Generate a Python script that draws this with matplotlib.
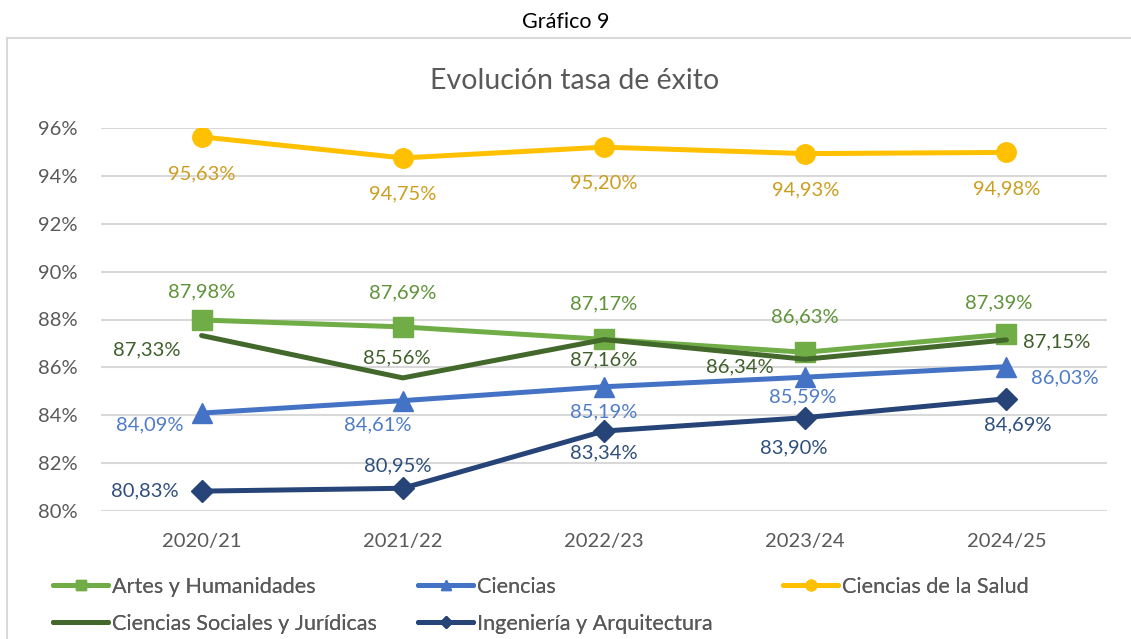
import matplotlib.pyplot as plt
from matplotlib.patches import Rectangle

plt.rcParams['font.family'] = ['Lato', 'DejaVu Sans']

years = ["2020/21", "2021/22", "2022/23", "2023/24", "2024/25"]
artes = [87.98, 87.69, 87.17, 86.63, 87.39]
ciencias = [84.09, 84.61, 85.19, 85.59, 86.03]
salud = [95.63, 94.75, 95.20, 94.93, 94.98]
sociales = [87.33, 85.56, 87.16, 86.34, 87.15]
ingenieria = [80.83, 80.95, 83.34, 83.90, 84.69]
yticks = [80, 82, 84, 86, 88, 90, 92, 94, 96]

# (name, values, line colour, label colour, marker, marker size, label offsets in px)
series = [
    ("Artes y Humanidades", artes, "#70AD47", "#5F9338", "s", 14,
     [(0, 28), (0, 34), (0, 35), (0, 35), (-8, 31)]),
    ("Ciencias Sociales y Jurídicas", sociales, "#43682B", "#3F5F2A", None, 0,
     [(-55, -14), (-6, 20), (0, -20), (-65, -8), (50, -2)]),
    ("Ciencias", ciencias, "#4472C4", "#4F7CC8", "^", 14,
     [(-52, -12), (-25, -24), (0, -25), (-2, -20), (58, -11)]),
    ("Ingeniería y Arquitectura", ingenieria, "#264478", "#2E4F7C", "D", 11,
     [(-57, 0), (-5, 22), (0, -22), (-11, -30), (11, -26)]),
    ("Ciencias de la Salud", salud, "#FFC000", "#CC9E1F", "o", 14,
     [(0, -37), (0, -36), (0, -36), (0, -36), (0, -36)]),
]

fig = plt.figure(figsize=(11.31, 6.39), dpi=100)

# outer chart border (cut off on right and bottom like the source)
fig.patches.append(Rectangle((7 / 1131, -0.05), 1.2, 0.05 + 1 - 38 / 639,
                             transform=fig.transFigure, fill=False,
                             edgecolor="#D9D9D9", lw=1.5))

fig.text(0.5, 1 - 22 / 639, "Gráfico 9", ha="center", va="center",
         fontsize=15.5, color="black")

ax = fig.add_axes([101 / 1131, 128 / 639, 1006 / 1131, 383 / 639])
x = list(range(len(years)))

handles = {}
for name, vals, col, lcol, mk, ms, offs in series:
    (h,) = ax.plot(x, vals, color=col, lw=3.6, marker=mk, markersize=ms,
                   solid_capstyle="round", label=name, zorder=3)
    handles[name] = h
    for xi, v, (dx, dy) in zip(x, vals, offs):
        ax.annotate(f"{v:.2f}%".replace(".", ","), (xi, v),
                    xytext=(dx, dy), textcoords="offset pixels",
                    ha="center", va="center", fontsize=14.5, color=lcol,
                    zorder=4)

ax.set_xlim(-0.5, len(years) - 0.5)
ax.set_ylim(80, 96)
ax.set_yticks(yticks)
ax.set_yticklabels([f"{t}%" for t in yticks])
ax.set_xticks(x)
ax.set_xticklabels(years)
ax.grid(axis="y", color="#D9D9D9", lw=1.5)
ax.set_axisbelow(True)
for s in ax.spines.values():
    s.set_visible(False)
ax.tick_params(length=0, labelsize=14.5, labelcolor="#595959")
ax.tick_params(axis="y", pad=17)
ax.tick_params(axis="x", pad=16)

fig.text(575 / 1131, 1 - 81 / 639, "Evolución tasa de éxito", ha="center",
         va="center", fontsize=20.5, color="#595959")

# legend: three columns placed like the Excel legend
columns = [
    (53, ["Artes y Humanidades", "Ciencias Sociales y Jurídicas"]),
    (418, ["Ciencias", "Ingeniería y Arquitectura"]),
    (783, ["Ciencias de la Salud"]),
]
for xpx, names in columns:
    leg = fig.legend(handles=[handles[n] for n in names], loc="upper left",
                     bbox_to_anchor=(xpx / 1131, 1 - 577 / 639),
                     bbox_transform=fig.transFigure, frameon=False,
                     fontsize=15.6, handlelength=2.55, handletextpad=0.18,
                     labelspacing=0.78, borderpad=0, borderaxespad=0)
    for t in leg.get_texts():
        t.set_color("#595959")
    for lh in leg.legend_handles:
        lh.set_markersize(lh.get_markersize() * 0.55)
    fig.add_artist(leg)

fig.savefig("out.png", dpi=100)
